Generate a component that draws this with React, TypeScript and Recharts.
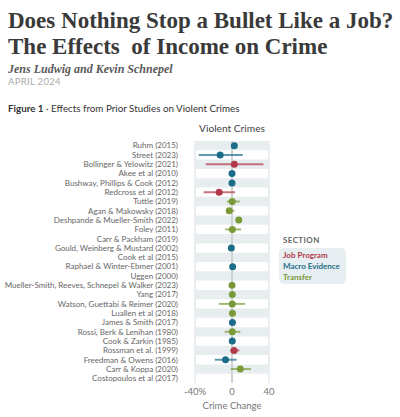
import React from 'react';
import {
  ScatterChart,
  Scatter,
  XAxis,
  YAxis,
  CartesianGrid,
  ReferenceArea,
  ReferenceLine,
  ErrorBar,
} from 'recharts';

// studies listed top to bottom
const studies = [
  'Ruhm (2015)',
  'Street (2023)',
  'Bollinger & Yelowitz (2021)',
  'Akee et al (2010)',
  'Bushway, Phillips & Cook (2012)',
  'Redcross et al (2012)',
  'Tuttle (2019)',
  'Agan & Makowsky (2018)',
  'Deshpande & Mueller-Smith (2022)',
  'Foley (2011)',
  'Carr & Packham (2019)',
  'Gould, Weinberg & Mustard (2002)',
  'Cook et al (2015)',
  'Raphael & Winter-Ebmer (2001)',
  'Uggen (2000)',
  'Mueller-Smith, Reeves, Schnepel & Walker (2023)',
  'Yang (2017)',
  'Watson, Guettabi & Reimer (2020)',
  'Luallen et al (2018)',
  'James & Smith (2017)',
  'Rossi, Berk & Lenihan (1980)',
  'Cook & Zarkin (1985)',
  'Rossman et al. (1999)',
  'Freedman & Owens (2016)',
  'Carr & Koppa (2020)',
  'Costopoulos et al (2017)',
];

const sections = [
  'Macro Evidence', 'Macro Evidence', 'Job Program', 'Macro Evidence', 'Macro Evidence',
  'Job Program', 'Transfer', 'Transfer', 'Transfer', 'Transfer',
  null, 'Macro Evidence', null, 'Macro Evidence', null,
  'Transfer', 'Transfer', 'Transfer', 'Transfer', 'Macro Evidence',
  'Transfer', 'Macro Evidence', 'Job Program', 'Macro Evidence', 'Transfer',
  null,
];

// crime change, percent
const estimates = [
  2.5, -12.8, 2.5, 0, 0, -13.9, 0.3, -3, 7.3, 0.4,
  null, -0.7, null, 0.7, null, 0, 0.3, 0.3, 0.5, 0.5,
  0.3, 0.3, 2.2, -7, 9, null,
];
const ciLow = [
  2.5, -36, -28.5, 0, 0, -30.7, -5.5, -6.2, 5.5, -7.3,
  null, -0.7, null, 0.7, null, 0, 0.3, -14.2, 0.5, 0.5,
  -8, 0.3, -2, -18.6, -1.4, null,
];
const ciHigh = [
  2.5, 11.7, 34, 0, 0, 3.3, 8.4, 2.6, 9.5, 9.9,
  null, -0.7, null, 0.7, null, 0, 0.3, 14.2, 0.5, 0.5,
  9, 0.3, 8, 5, 20.5, null,
];

const sectionNames = ['Job Program', 'Macro Evidence', 'Transfer'];
const sectionColors = ['#b03a48', '#1c6d8a', '#7a9a3a'];

const xTicks = [-40, 0, 40];

const sans = 'Lato, "Open Sans", sans-serif';
const serif = '"Liberation Serif", "DejaVu Serif", serif';

const rows = studies.map((s, i) => ({
  row: i,
  study: s,
  section: sections[i],
  est: estimates[i],
  err: estimates[i] == null ? [0, 0] : [estimates[i] - ciLow[i], ciHigh[i] - estimates[i]],
}));

// plain text tick so long study names don't wrap
const StudyTick = (props: any) => {
  const { x, y, payload } = props;
  return (
    <text x={x} y={y} dy="0.35em" textAnchor="end" fontFamily={sans} fontSize={8} fill="#666">
      {studies[payload.value] ?? ''}
    </text>
  );
};

export default function App() {
  return (
    <div
      style={{
        position: 'absolute',
        left: 0,
        top: 0,
        width: 400,
        height: 417,
        background: '#fff',
        overflow: 'hidden',
      }}
    >
      <div style={{ position: 'absolute', left: 8, top: 9, fontFamily: serif, fontWeight: 700, fontSize: 23, lineHeight: '23px', color: '#3a3a3a', whiteSpace: 'nowrap' }}>
        Does Nothing Stop a Bullet Like a Job?
      </div>
      <div style={{ position: 'absolute', left: 8, top: 35, fontFamily: serif, fontWeight: 700, fontSize: 23, lineHeight: '23px', color: '#3a3a3a', whiteSpace: 'nowrap' }}>
        The Effects&nbsp; of Income on Crime
      </div>
      <div style={{ position: 'absolute', left: 8, top: 63, fontFamily: serif, fontWeight: 700, fontStyle: 'italic', fontSize: 12, lineHeight: '12px', color: '#5a5a5a', whiteSpace: 'nowrap' }}>
        Jens Ludwig and Kevin Schnepel
      </div>
      <div style={{ position: 'absolute', left: 8, top: 77, fontFamily: sans, fontSize: 9.5, lineHeight: '10px', color: '#aaa', letterSpacing: 0.3, whiteSpace: 'nowrap' }}>
        APRIL 2024
      </div>
      <div style={{ position: 'absolute', left: 8, top: 103, fontFamily: sans, fontSize: 9.8, lineHeight: '11px', color: '#333', whiteSpace: 'nowrap' }}>
        <b>Figure 1</b> · Effects from Prior Studies on Violent Crimes
      </div>
      <div style={{ position: 'absolute', left: 132, width: 200, top: 123, textAlign: 'center', fontFamily: sans, fontSize: 10.2, lineHeight: '11px', color: '#444' }}>
        Violent Crimes
      </div>

      <div style={{ position: 'absolute', left: 0, top: 0 }}>
        <ScatterChart width={400} height={417} margin={{ top: 141, right: 131, bottom: 4, left: 0 }}>
          {studies.map((s, i) =>
            i % 2 === 0 ? (
              <ReferenceArea key={s} y1={i - 0.5} y2={i + 0.5} fill="#e8eef0" fillOpacity={1} stroke="none" ifOverflow="visible" />
            ) : null
          )}
          <CartesianGrid horizontal={false} stroke="#d7dcdf" />
          <ReferenceLine x={0} stroke="#b3b8bb" strokeWidth={1} />
          <XAxis
            type="number"
            dataKey="est"
            domain={[-40, 40]}
            ticks={xTicks}
            tickFormatter={(v: number) => (v === -40 ? '-40%' : String(v))}
            axisLine={false}
            tickLine={false}
            tickSize={0}
            tickMargin={5}
            height={30}
            tick={{ fontFamily: sans, fontSize: 9.5, fill: '#777' }}
            label={{ value: 'Crime Change', position: 'insideBottom', offset: 4, style: { fontFamily: sans, fontSize: 9.5, fill: '#777' } }}
          />
          <YAxis
            type="number"
            dataKey="row"
            domain={[-0.5, 25.5]}
            reversed
            ticks={studies.map((_, i) => i)}
            interval={0}
            axisLine={false}
            tickLine={false}
            tickSize={0}
            tickMargin={17}
            width={195}
            tick={<StudyTick />}
          />
          {sectionNames.map((name, k) => (
            <Scatter
              key={name}
              name={name}
              data={rows.filter((r) => r.section === name)}
              isAnimationActive={false}
              shape={(p: any) => <circle cx={p.cx} cy={p.cy} r={3.5} fill={sectionColors[k]} />}
            >
              <ErrorBar dataKey="err" direction="x" width={0} stroke={sectionColors[k]} strokeOpacity={0.7} strokeWidth={2} />
            </Scatter>
          ))}
        </ScatterChart>
      </div>

      <div style={{ position: 'absolute', left: 283, top: 236, fontFamily: sans, fontWeight: 700, fontSize: 8, lineHeight: '9px', color: '#666', letterSpacing: 0.4 }}>
        SECTION
      </div>
      <div
        style={{
          position: 'absolute',
          left: 279,
          top: 248,
          width: 67,
          height: 36,
          background: '#e8eff2',
          borderRadius: 5,
          fontFamily: sans,
          fontWeight: 700,
          fontSize: 8,
          lineHeight: '11px',
          padding: '2px 0 0 4px',
          boxSizing: 'border-box',
        }}
      >
        {sectionNames.map((name, k) => (
          <div key={name} style={{ color: sectionColors[k], whiteSpace: 'nowrap' }}>
            {name}
          </div>
        ))}
      </div>
    </div>
  );
}
